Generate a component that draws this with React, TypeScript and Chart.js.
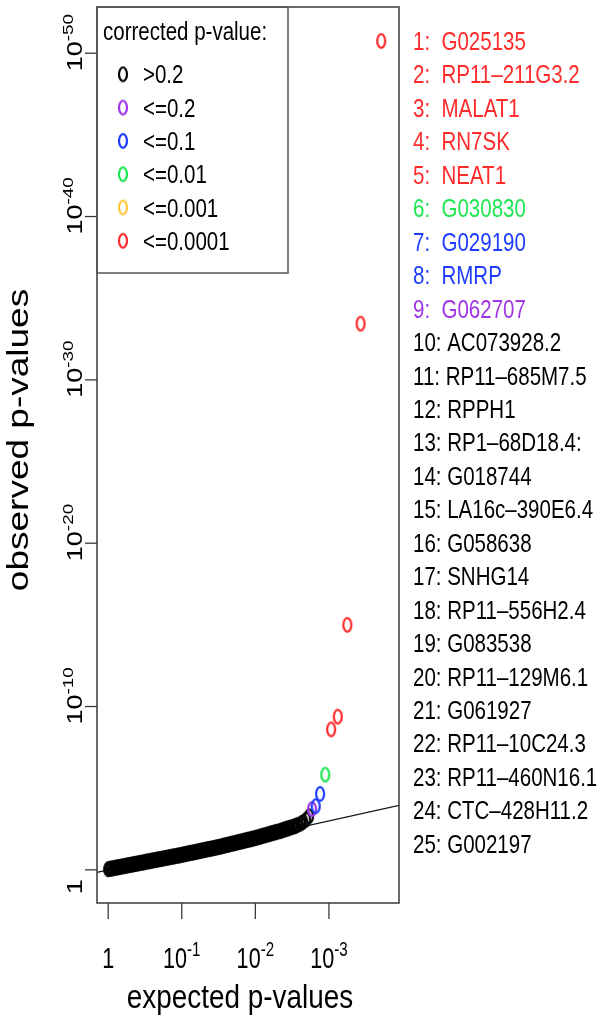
import React, { useEffect, useRef } from "react";
import { Chart, registerables } from "chart.js";

Chart.register(...registerables);

// ---------- data ----------
const GENES = [
  "G025135", "RP11–211G3.2", "MALAT1", "RN7SK", "NEAT1", "G030830", "G029190", "RMRP", "G062707",
  "AC073928.2", "RP11–685M7.5", "RPPH1", "RP1–68D18.4:", "G018744", "LA16c–390E6.4", "G058638",
  "SNHG14", "RP11–556H2.4", "G083538", "RP11–129M6.1", "G061927", "RP11–10C24.3", "RP11–460N16.1",
  "CTC–428H11.2", "G002197",
];
// index into LEGEND_LABELS / LEGEND_COLORS (corrected p-value class)
const GENE_BIN = [5, 5, 5, 5, 5, 3, 2, 2, 1, 0, 0, 0, 0, 0, 0, 0, 0, 0, 0, 0, 0, 0, 0, 0, 0];

const LEGEND_TITLE = "corrected p-value:";
const LEGEND_LABELS = [">0.2", "<=0.2", "<=0.1", "<=0.01", "<=0.001", "<=0.0001"];
const LEGEND_COLORS = ["#000000", "#A035E6", "#1E3CFF", "#1EE650", "#FFC83C", "#FF2A2A"];

// top-ranked (coloured) genes: expected / observed -log10 p
const TOP_X = [3.71, 3.43, 3.25, 3.12, 3.03, 2.95, 2.88, 2.82, 2.77];
const TOP_Y = [50.75, 33.44, 15.0, 9.38, 8.6, 5.83, 4.65, 3.9, 3.72];

// the dense black band of remaining genes (expected / observed -log10 p)
const BAND_X = [
  0.0, 0.02, 0.04, 0.06, 0.08, 0.1, 0.12, 0.14, 0.16, 0.18, 0.2, 0.22, 0.24, 0.26, 0.28, 0.3, 0.32,
  0.34, 0.36, 0.38, 0.4, 0.42, 0.44, 0.46, 0.48, 0.5, 0.52, 0.54, 0.56, 0.58, 0.6, 0.62, 0.64, 0.66,
  0.68, 0.7, 0.72, 0.74, 0.76, 0.78, 0.8, 0.82, 0.84, 0.86, 0.88, 0.9, 0.92, 0.94, 0.96, 0.98, 1.0,
  1.02, 1.04, 1.06, 1.08, 1.1, 1.12, 1.14, 1.16, 1.18, 1.2, 1.22, 1.24, 1.26, 1.28, 1.3, 1.32, 1.34,
  1.36, 1.38, 1.4, 1.42, 1.44, 1.46, 1.48, 1.5, 1.52, 1.54, 1.56, 1.58, 1.6, 1.62, 1.64, 1.66, 1.68,
  1.7, 1.72, 1.74, 1.76, 1.78, 1.8, 1.82, 1.84, 1.86, 1.88, 1.9, 1.92, 1.94, 1.96, 1.98, 2.0, 2.02,
  2.04, 2.06, 2.08, 2.1, 2.12, 2.14, 2.16, 2.18, 2.2, 2.22, 2.24, 2.26, 2.28, 2.3, 2.33, 2.35, 2.37,
  2.39, 2.41, 2.43, 2.45, 2.47, 2.5, 2.53, 2.55, 2.58, 2.62, 2.65, 2.69, 2.73,
];
const BAND_Y = [
  0.04, 0.06, 0.08, 0.09, 0.11, 0.13, 0.15, 0.16, 0.18, 0.2, 0.22, 0.23, 0.25, 0.27, 0.29, 0.3, 0.32,
  0.34, 0.36, 0.37, 0.39, 0.41, 0.43, 0.44, 0.46, 0.48, 0.5, 0.52, 0.53, 0.55, 0.57, 0.59, 0.6, 0.62,
  0.64, 0.66, 0.67, 0.69, 0.71, 0.73, 0.74, 0.76, 0.78, 0.8, 0.81, 0.83, 0.85, 0.87, 0.88, 0.9, 0.92,
  0.94, 0.96, 0.98, 1.0, 1.02, 1.04, 1.05, 1.07, 1.09, 1.11, 1.13, 1.15, 1.17, 1.19, 1.21, 1.23, 1.25,
  1.27, 1.28, 1.3, 1.32, 1.34, 1.36, 1.38, 1.4, 1.42, 1.44, 1.47, 1.49, 1.51, 1.53, 1.55, 1.58, 1.6,
  1.62, 1.64, 1.66, 1.69, 1.71, 1.73, 1.75, 1.77, 1.8, 1.82, 1.84, 1.86, 1.88, 1.91, 1.93, 1.95, 1.98,
  2.0, 2.03, 2.05, 2.08, 2.11, 2.13, 2.16, 2.18, 2.21, 2.24, 2.26, 2.29, 2.31, 2.34, 2.37, 2.4, 2.43,
  2.46, 2.49, 2.52, 2.55, 2.58, 2.62, 2.66, 2.7, 2.76, 2.84, 2.93, 3.08, 3.28,
];

// axes
const X_TICKS = [0, 1, 2, 3];
const X_TICK_BASE = ["1", "10", "10", "10"];
const X_TICK_EXP = ["", "-1", "-2", "-3"];
const Y_TICKS = [0, 10, 20, 30, 40, 50];
const Y_TICK_BASE = ["1", "10", "10", "10", "10", "10"];
const Y_TICK_EXP = ["", "-10", "-20", "-30", "-40", "-50"];
const X_TITLE = "expected p-values";
const Y_TITLE = "observed p-values";
const X_RANGE = [-0.152, 3.952];
const Y_RANGE = [-2.03, 52.83];
const DIAG = [-1, 6];

// ---------- drawing helpers ----------
const FAMILY = '"Liberation Sans", Arial, Helvetica, sans-serif';
const SQUEEZE = 0.82;

function makeOval(color: string): HTMLCanvasElement {
  const c = document.createElement("canvas");
  c.width = 14;
  c.height = 20;
  const g = c.getContext("2d")!;
  g.strokeStyle = color;
  g.lineWidth = 2.2;
  g.beginPath();
  g.ellipse(7, 10, 4.0, 6.8, 0, 0, Math.PI * 2);
  g.stroke();
  return c;
}

function drawText(ctx: CanvasRenderingContext2D, text: string, x: number, y: number, size: number, color: string, sx: number, align: CanvasTextAlign = "left") {
  ctx.save();
  ctx.translate(x, y);
  ctx.scale(sx, 1);
  ctx.font = `${size}px ${FAMILY}`;
  ctx.fillStyle = color;
  ctx.textAlign = align;
  ctx.textBaseline = "alphabetic";
  ctx.fillText(text, 0, 0);
  ctx.restore();
}

function powWidth(ctx: CanvasRenderingContext2D, base: string, exp: string, size: number) {
  ctx.font = `${size}px ${FAMILY}`;
  const wb = ctx.measureText(base).width;
  ctx.font = `${size * 0.7}px ${FAMILY}`;
  const we = exp ? ctx.measureText(exp).width : 0;
  return [wb, we];
}

function drawPow(ctx: CanvasRenderingContext2D, base: string, exp: string, size: number, x0: number) {
  const [wb] = powWidth(ctx, base, exp, size);
  ctx.font = `${size}px ${FAMILY}`;
  ctx.textAlign = "left";
  ctx.fillText(base, x0, 0);
  if (exp) {
    ctx.font = `${size * 0.7}px ${FAMILY}`;
    ctx.fillText(exp, x0 + wb, -size * 0.4);
  }
}

export default function App() {
  const ref = useRef<HTMLCanvasElement | null>(null);

  useEffect(() => {
    const prevMargin = document.body.style.margin;
    document.body.style.margin = "0";
    const canvas = ref.current!;
    const ovals = LEGEND_COLORS.map(makeOval);

    const colouredSets = [5, 4, 3, 2, 1].map((bin) => {
      const pts: { x: number; y: number }[] = [];
      TOP_X.forEach((x, i) => {
        if (GENE_BIN[i] === bin) pts.push({ x, y: TOP_Y[i] });
      });
      return {
        label: LEGEND_LABELS[bin],
        data: pts,
        pointStyle: ovals[bin],
        pointRadius: 6,
        showLine: false,
        order: 1,
      };
    });

    const overlay = {
      id: "rOverlay",
      afterDraw(chart: any) {
        const ctx: CanvasRenderingContext2D = chart.ctx;
        const xs = chart.scales.x;
        const ys = chart.scales.y;
        const a = chart.chartArea;
        ctx.save();
        // plot box
        ctx.strokeStyle = "#3a3a3a";
        ctx.lineWidth = 1.5;
        ctx.strokeRect(a.left, a.top, a.right - a.left, a.bottom - a.top);

        // y ticks + labels
        ctx.lineWidth = 1.3;
        Y_TICKS.forEach((v, i) => {
          const py = ys.getPixelForValue(v);
          ctx.beginPath();
          ctx.moveTo(a.left - 12, py);
          ctx.lineTo(a.left, py);
          ctx.stroke();
          const size = 27;
          const [wb, we] = powWidth(ctx, Y_TICK_BASE[i], Y_TICK_EXP[i], size);
          const w = wb + we;
          const start = Y_TICK_EXP[i] ? py + 18 : py + 17 + w / 2;
          ctx.save();
          ctx.fillStyle = "#000";
          ctx.translate(a.left - 15, start);
          ctx.scale(SQUEEZE, 1);
          ctx.rotate(-Math.PI / 2);
          drawPow(ctx, Y_TICK_BASE[i], Y_TICK_EXP[i], size, 0);
          ctx.restore();
        });

        // x ticks + labels
        X_TICKS.forEach((v, i) => {
          const px = xs.getPixelForValue(v);
          ctx.beginPath();
          ctx.moveTo(px, a.bottom);
          ctx.lineTo(px, a.bottom + 16);
          ctx.stroke();
          const size = 30;
          const sx = 0.72;
          const [wb, we] = powWidth(ctx, X_TICK_BASE[i], X_TICK_EXP[i], size);
          ctx.save();
          ctx.fillStyle = "#000";
          ctx.translate(px, a.bottom + 65);
          ctx.scale(sx, 1);
          drawPow(ctx, X_TICK_BASE[i], X_TICK_EXP[i], size, -(wb + we) / 2);
          ctx.restore();
        });

        // axis titles
        drawText(ctx, X_TITLE, 240, 1008, 34, "#000", SQUEEZE, "center");
        ctx.save();
        ctx.translate(28, 440);
        ctx.scale(SQUEEZE, 1);
        ctx.rotate(-Math.PI / 2);
        ctx.font = `37px ${FAMILY}`;
        ctx.fillStyle = "#000";
        ctx.textAlign = "center";
        ctx.fillText(Y_TITLE, 0, 0);
        ctx.restore();

        // legend
        ctx.strokeStyle = "#555";
        ctx.lineWidth = 1.5;
        ctx.strokeRect(a.left, a.top, 191, 266);
        drawText(ctx, LEGEND_TITLE, a.left + 6, 40, 25, "#000", SQUEEZE);
        LEGEND_LABELS.forEach((lab, i) => {
          const base = 83.3 + i * 33.3;
          const o = ovals[i];
          ctx.drawImage(o, a.left + 26 - o.width / 2, base - 9 - o.height / 2);
          drawText(ctx, lab, a.left + 46, base, 25, "#000", SQUEEZE);
        });

        // gene list
        GENES.forEach((g, i) => {
          const txt = `${i + 1}:${i < 9 ? "  " : " "}${g}`;
          drawText(ctx, txt, 413, 50 + i * 33.45, 25, LEGEND_COLORS[GENE_BIN[i]], SQUEEZE);
        });
        ctx.restore();
      },
    };

    const chart = new Chart(canvas, {
      type: "scatter",
      data: {
        datasets: [
          ...colouredSets,
          {
            label: LEGEND_LABELS[0],
            data: BAND_X.map((x, i) => ({ x, y: BAND_Y[i] })),
            pointStyle: ovals[0],
            pointRadius: 6,
            showLine: false,
            order: 2,
          },
          {
            label: "y = x",
            data: DIAG.map((v) => ({ x: v, y: v })),
            showLine: true,
            borderColor: "#111",
            borderWidth: 1.3,
            pointRadius: 0,
            order: 3,
          },
        ] as any,
      },
      options: {
        responsive: false,
        animation: false,
        devicePixelRatio: 1,
        layout: { padding: { left: 97, right: 202, top: 6, bottom: 112 } },
        scales: {
          x: { type: "linear", min: X_RANGE[0], max: X_RANGE[1], display: false },
          y: { type: "linear", min: Y_RANGE[0], max: Y_RANGE[1], display: false },
        },
        plugins: { legend: { display: false }, tooltip: { enabled: false } },
        events: [],
      },
      plugins: [overlay],
    });

    return () => {
      chart.destroy();
      document.body.style.margin = prevMargin;
    };
  }, []);

  return (
    <div style={{ position: "absolute", left: 0, top: 0, width: 601, height: 1015, background: "#fff" }}>
      <canvas ref={ref} width={601} height={1015} style={{ display: "block" }} />
    </div>
  );
}
